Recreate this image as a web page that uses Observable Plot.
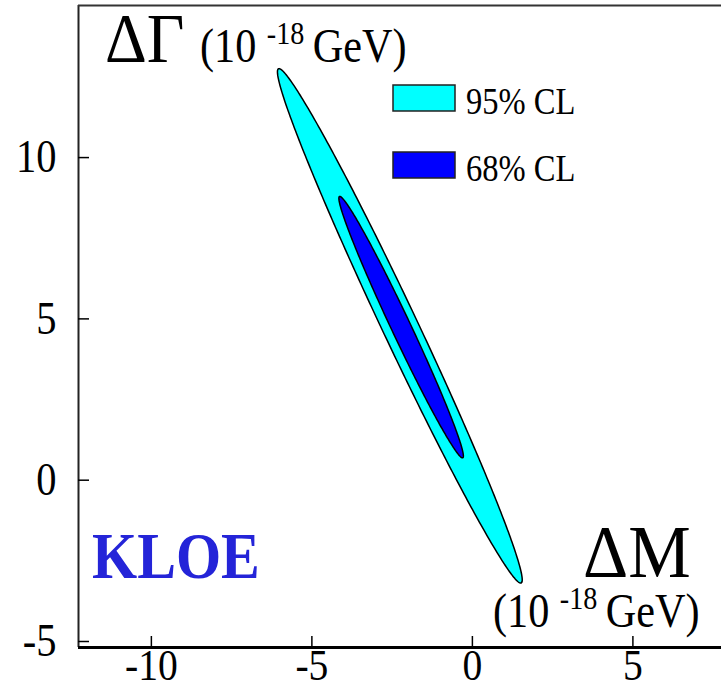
<!DOCTYPE html>
<html>
<head>
<meta charset="utf-8">
<script src="https://cdn.jsdelivr.net/npm/d3@7"></script>
<script src="https://cdn.jsdelivr.net/npm/@observablehq/plot@0.6"></script>
<style>
  html, body { margin: 0; padding: 0; background: #fff; }
  #chart { position: relative; width: 721px; height: 689px; }
  #chart svg { font-family: "Liberation Serif", "DejaVu Serif", serif; }
</style>
</head>
<body>
<div id="chart"></div>
<script>
// Confidence regions in the (ΔM, ΔΓ) plane, units of 10^-18 GeV.
const levels    = ["95% CL", "68% CL"];
const colors    = ["#00ffff", "#0000ff"];
const centerM   = [-2.26, -2.22];   // centre of each region, ΔM
const centerG   = [4.97, 4.93];     // centre of each region, ΔΓ
const tipM      = [-6.04, -4.14];   // upper end of the major axis, ΔM
const tipG      = [12.94, 8.98];    // upper end of the major axis, ΔΓ
const halfWidth = [0.55, 0.30];     // semi-minor axis

const xTicks = [-10, -5, 0, 5];
const yTicks = [-5, 0, 5, 10];
const xDomain = [-12.27, 7.76];
const yDomain = [-5, 14.9];

// Outline of one confidence ellipse
function ellipse(i) {
  const ux = tipM[i] - centerM[i], uy = tipG[i] - centerG[i];
  const len = Math.hypot(ux, uy);
  const px = -uy / len * halfWidth[i], py = ux / len * halfWidth[i];
  return d3.range(0, 360, 1).map(a => {
    const t = a * Math.PI / 180;
    return {
      cl: levels[i],
      m: centerM[i] + Math.cos(t) * ux + Math.sin(t) * px,
      g: centerG[i] + Math.cos(t) * uy + Math.sin(t) * py
    };
  });
}

const plot = Plot.plot({
  width: 721,
  height: 689,
  marginLeft: 78,
  marginRight: 0,
  marginTop: 5,
  marginBottom: 42,
  style: { fontFamily: "Liberation Serif", background: "white", color: "black" },
  x: { domain: xDomain },
  y: { domain: yDomain },
  marks: [
    Plot.line(ellipse(0), { x: "m", y: "g", fill: colors[0], stroke: "black", strokeWidth: 1.5, curve: "linear-closed" }),
    Plot.line(ellipse(1), { x: "m", y: "g", fill: colors[1], stroke: "black", strokeWidth: 1.5, curve: "linear-closed" }),
    Plot.ruleX([xDomain[0]], { stroke: "#222", strokeWidth: 2 }),
    Plot.ruleY([yDomain[1]], { stroke: "#333", strokeWidth: 2 }),
    Plot.ruleY([yDomain[0]], { stroke: "black", strokeWidth: 3 }),
    Plot.axisX(xTicks, { tickSize: -11, tickPadding: 12, fontSize: 45, tickFormat: d => String(d), label: null, strokeWidth: 1.5 }),
    Plot.axisY(yTicks, { tickSize: -11, tickPadding: 33, fontSize: 46, dy: -6, tickFormat: d => String(d), label: null, strokeWidth: 1.5 })
  ]
});

document.getElementById("chart").appendChild(plot);

// Serif lettering in this figure is narrow: compress horizontally
const squeeze = " scale(0.88,1)";
d3.select(plot).selectAll("text").each(function () {
  const tr = this.getAttribute("transform");
  if (tr) this.setAttribute("transform", tr + squeeze);
});

const svg = d3.select(plot);

// Unit text "(10^-18 GeV)" with a raised exponent
function unitLabel(g, x, y) {
  const t = g.append("text")
    .attr("transform", `translate(${x},${y})` + squeeze);
  t.append("tspan").attr("font-size", 48).text("(10 ");
  t.append("tspan").attr("font-size", 32).attr("dy", -18).text("-18");
  t.append("tspan").attr("font-size", 48).attr("dy", 18).text("\u2009GeV)");
}
const ann = svg.append("g")
  .attr("font-family", "Liberation Serif")
  .attr("text-anchor", "start")
  .attr("fill", "black");
ann.append("text").attr("transform", `translate(105,62) scale(0.93,1)`)
  .attr("font-size", 70).text("ΔΓ");
unitLabel(ann, 200, 62);
ann.append("text").attr("transform", `translate(583,577) scale(0.95,1)`)
  .attr("font-size", 74).text("ΔM");
unitLabel(ann, 493, 627);

ann.append("text").attr("transform", `translate(92,578)` + squeeze)
  .attr("font-size", 66).attr("font-weight", "bold").attr("fill", "#2424d8").text("KLOE");

// Legend
const legendY = [85, 152];
levels.forEach((lab, i) => {
  ann.append("rect").attr("x", 393).attr("y", legendY[i]).attr("width", 62).attr("height", 26)
    .attr("fill", colors[i]).attr("stroke", "#222").attr("stroke-width", 1.5);
  ann.append("text").attr("transform", `translate(466,${legendY[i] + 29})` + squeeze)
    .attr("font-size", 37).text(lab);
});
</script>
</body>
</html>
